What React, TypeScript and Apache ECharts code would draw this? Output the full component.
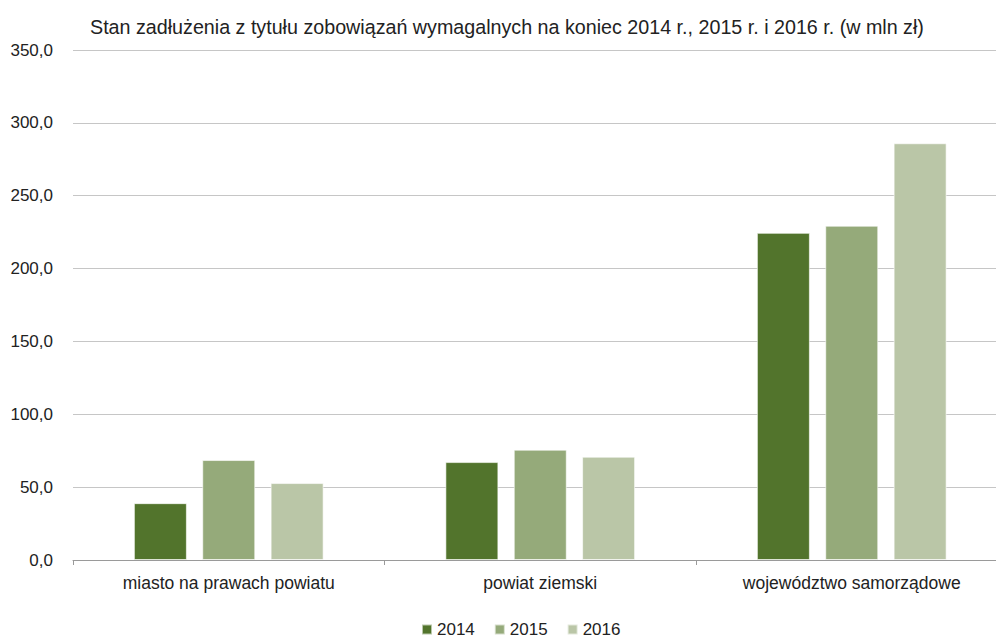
import React, { useEffect, useRef } from "react";
import * as echarts from "echarts";

const categories = ["miasto na prawach powiatu", "powiat ziemski", "województwo samorządowe"];
const seriesNames = ["2014", "2015", "2016"];
const values2014 = [39.0, 67.2, 224.5];
const values2015 = [68.6, 75.7, 229.4];
const values2016 = [52.8, 70.9, 286.0];
const colors = ["#52742c", "#95aa7a", "#bac6a7"];
const titleText = "Stan zadłużenia z tytułu zobowiązań wymagalnych na koniec 2014 r., 2015 r. i 2016 r. (w mln zł)";

const FONT = "'Liberation Sans Narrow', 'Arial Narrow', 'Liberation Sans', sans-serif";

export default function App() {
  const ref = useRef<HTMLDivElement>(null);
  useEffect(() => {
    if (!ref.current) return;
    const chart = echarts.init(ref.current, null, { renderer: "svg" });
    const data = [values2014, values2015, values2016];
    chart.setOption({
      animation: false,
      backgroundColor: "#ffffff",
      textStyle: { fontFamily: FONT },
      title: {
        text: titleText,
        left: 85,
        top: 12,
        textStyle: { fontFamily: FONT, fontSize: 19.7, fontWeight: "normal", color: "#222" },
      },
      legend: {
        data: seriesNames,
        bottom: 0,
        left: 416,
        itemWidth: 10,
        itemHeight: 10,
        itemGap: 19,
        icon: "rect",
        textStyle: { fontFamily: FONT, fontSize: 17, color: "#222" },
      },
      grid: { left: 73, top: 50, bottom: 83, right: 12.5, containLabel: false },
      xAxis: {
        type: "category",
        data: categories,
        axisLine: { lineStyle: { color: "#9a9a9a", width: 1 } },
        axisTick: { show: true, length: 5, lineStyle: { color: "#9a9a9a" } },
        axisLabel: { fontFamily: FONT, fontSize: 17.5, color: "#222", margin: 14 },
      },
      yAxis: {
        type: "value",
        min: 0,
        max: 350,
        interval: 50,
        axisLine: { show: false },
        axisTick: { show: false },
        splitLine: { lineStyle: { color: "#c6c6c6", width: 1 } },
        axisLabel: {
          fontFamily: FONT,
          fontSize: 17,
          color: "#222",
          margin: 20,
          formatter: (v: number) => v.toFixed(1).replace(".", ","),
        },
      },
      series: seriesNames.map((name, i) => ({
        name,
        type: "bar",
        data: data[i],
        barWidth: 53,
        barGap: "29%",
        itemStyle: { color: colors[i], borderColor: "rgba(255,255,255,0.6)", borderWidth: 1 },
      })),
    });
    return () => chart.dispose();
  }, []);
  return (
    <div style={{ position: "fixed", left: 0, top: 0, width: 996, height: 643, overflow: "hidden", background: "#fff" }}>
      <div ref={ref} style={{ width: 1020, height: 643 }} />
    </div>
  );
}
